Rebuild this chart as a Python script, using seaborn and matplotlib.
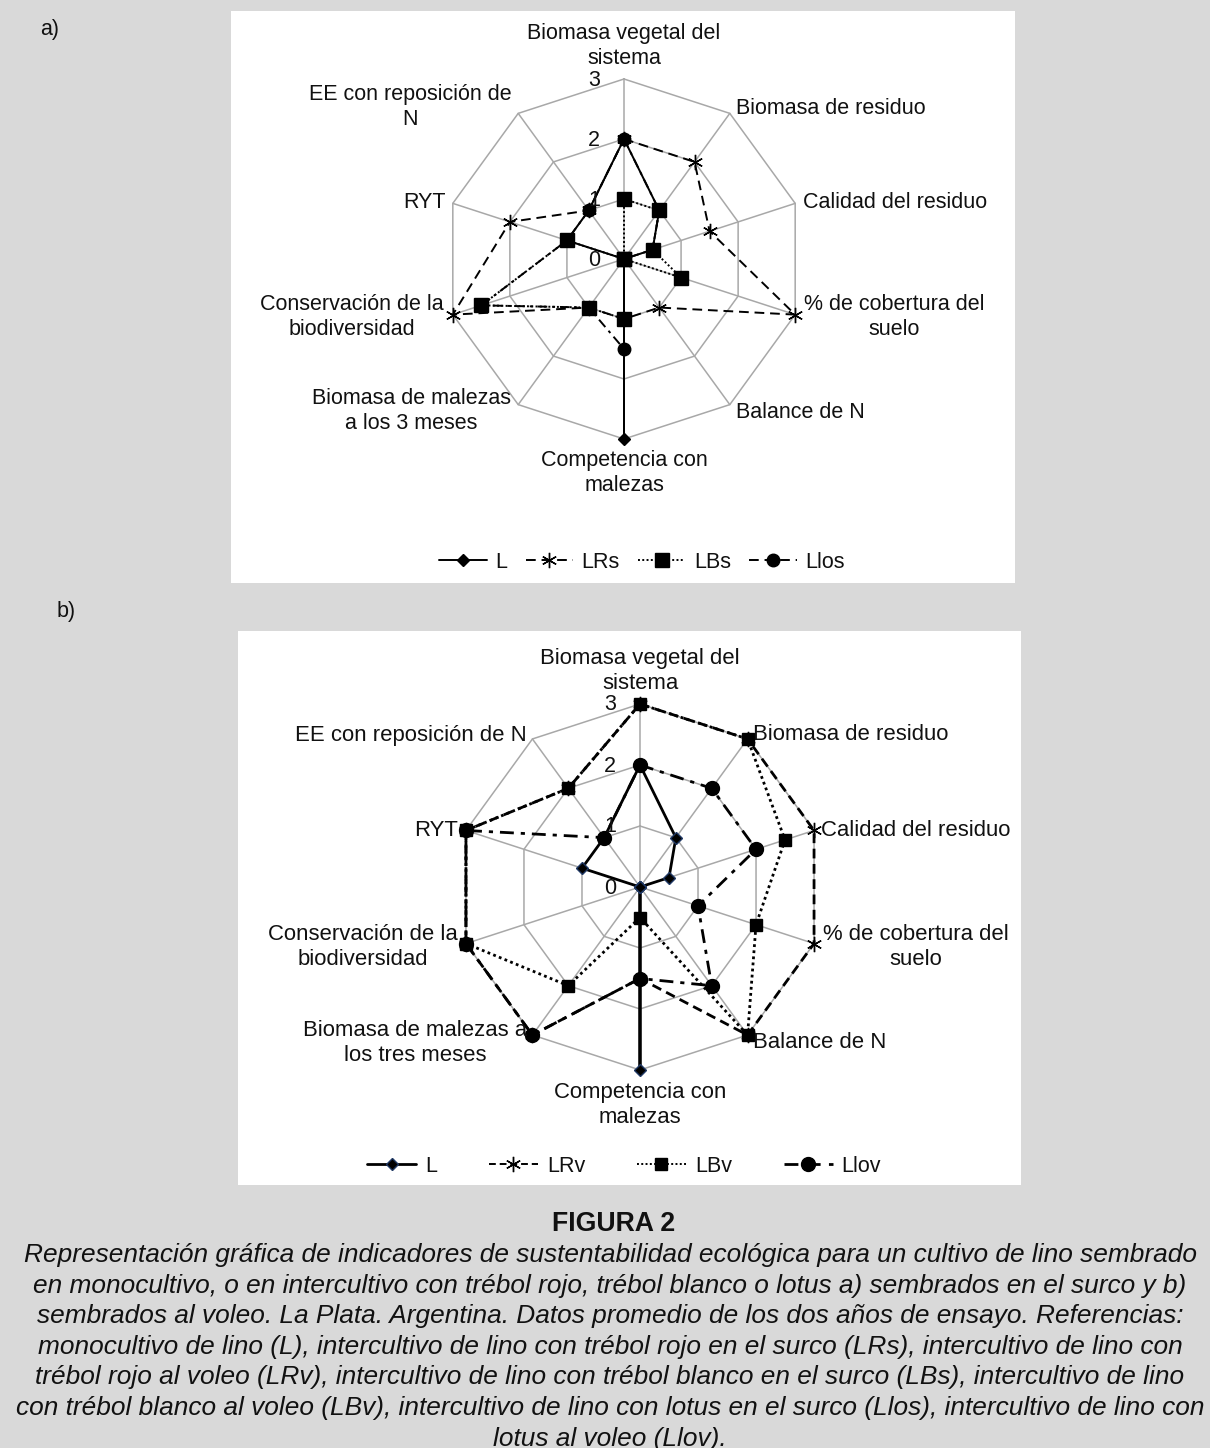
import numpy as np
import pandas as pd
import matplotlib
matplotlib.use("Agg")
import matplotlib.pyplot as plt
import seaborn as sns
from matplotlib.lines import Line2D
from matplotlib.patches import Rectangle

sns.set_theme(style="white")
plt.rcParams["font.family"] = ["Liberation Sans", "DejaVu Sans"]

# ---------------- data ----------------
axes_a = ["Biomasa vegetal del\nsistema", "Biomasa de residuo", "Calidad del residuo",
          "% de cobertura del\nsuelo", "Balance de N", "Competencia con\nmalezas",
          "Biomasa de malezas\na los 3 meses", "Conservación de la\nbiodiversidad",
          "RYT", "EE con reposición de\nN"]
axes_b = ["Biomasa vegetal del\nsistema", "Biomasa de residuo", "Calidad del residuo",
          "% de cobertura del\nsuelo", "Balance de N", "Competencia con\nmalezas",
          "Biomasa de malezas a\nlos tres meses", "Conservación de la\nbiodiversidad",
          "RYT", "EE con reposición de N"]
tick_values = [0, 1, 2, 3]

series_a = ["L", "LRs", "LBs", "Llos"]
L_a = [2, 1, 0.5, 0, 0, 3, 0, 0, 1, 1]
LRs_a = [2, 2, 1.5, 3, 1, 1, 1, 3, 2, 1]
LBs_a = [1, 1, 0.5, 1, 0, 1, 1, 2.5, 1, 0]
Llos_a = [2, 1, 0.5, 0, 0, 1.5, 1, 2.5, 1, 1]

series_b = ["L", "LRv", "LBv", "Llov"]
L_b = [2, 1, 0.5, 0, 0, 3, 0, 0, 1, 1]
LRv_b = [3, 3, 3, 3, 3, 1.5, 3, 3, 3, 2]
LBv_b = [3, 3, 2.5, 2, 3, 0.5, 2, 3, 3, 2]
Llov_b = [2, 2, 2, 1, 2, 1.5, 3, 3, 3, 1]

caption_title = "FIGURA 2"
caption_lines = [
    "Representación gráfica de indicadores de sustentabilidad ecológica para un cultivo de lino sembrado",
    "en monocultivo, o en intercultivo con trébol rojo, trébol blanco o lotus a) sembrados en el surco y b)",
    "sembrados al voleo. La Plata. Argentina. Datos promedio de los dos años de ensayo. Referencias:",
    "monocultivo de lino (L), intercultivo de lino con trébol rojo en el surco (LRs), intercultivo de lino con",
    "trébol rojo al voleo (LRv), intercultivo de lino con trébol blanco en el surco (LBs), intercultivo de lino",
    "con trébol blanco al voleo (LBv), intercultivo de lino con lotus en el surco (Llos), intercultivo de lino con",
    "lotus al voleo (Llov).",
]

# ---------------- figure ----------------
W, H = 1210, 1448
fig = plt.figure(figsize=(W / 100, H / 100), dpi=100)
fig.patch.set_facecolor("#d9d9d9")
TXT = "#111111"
GRID = "#a8a8a8"


def fx(x):
    return x / W


def fy(y):
    return 1 - y / H


def panel(x0, y0, x1, y1):
    fig.patches.append(Rectangle((fx(x0), fy(y1)), fx(x1) - fx(x0), fy(y0) - fy(y1),
                                 transform=fig.transFigure, facecolor="white",
                                 edgecolor="none", zorder=-5))


def radar_axes(cx, cy, R):
    ax = fig.add_axes([fx(cx - R), fy(cy + R), 2 * R / W, 2 * R / H], projection="polar")
    ax.set_zorder(2)
    ax.patch.set_alpha(0)
    ax.set_theta_zero_location("N")
    ax.set_theta_direction(-1)
    ax.set_ylim(0, 3)
    ax.set_axis_off()
    return ax


n = 10
theta = np.linspace(0, 2 * np.pi, n, endpoint=False)
theta_c = np.append(theta, 2 * np.pi)


def draw_grid(ax):
    for r in tick_values[1:]:
        ax.plot(theta_c, [r] * (n + 1), color=GRID, lw=1.1, clip_on=False, zorder=1)
    for t in theta:
        ax.plot([t, t], [0, 3], color=GRID, lw=1.1, clip_on=False, zorder=1)


def draw_series(ax, names, values, dashes, markers, lw):
    rows = []
    for nm, vals in zip(names, values):
        vc = list(vals) + [vals[0]]
        for t, v in zip(theta_c, vc):
            rows.append({"serie": nm, "theta": t, "r": v})
    df = pd.DataFrame(rows)
    sns.lineplot(data=df, x="theta", y="r", hue="serie", style="serie",
                 palette={k: "black" for k in names}, dashes=dashes,
                 sort=False, estimator=None, errorbar=None, legend=False,
                 lw=lw, ax=ax, clip_on=False, zorder=3)
    for nm, vals in zip(names, values):
        m = markers[nm]
        ax.plot(theta, vals, linestyle="none", clip_on=False, zorder=4, **m)
    ax.set_xlabel("")
    ax.set_ylabel("")


def strip(d):
    return {k: v for k, v in d.items() if k != "color"}


fs = 15.5
LS = 1.24

# ---------------- panel a ----------------
panel(231, 11, 1015, 583)
axa = radar_axes(624, 259, 180)
draw_grid(axa)
dash_a = {"L": "", "LRs": (5, 3), "LBs": (1, 1.2), "Llos": (5, 2.5, 1.5, 2.5)}
mk_a = {
    "L": dict(marker="D", ms=6, color="black"),
    "LRs": dict(marker=(6, 2, 0), ms=11, mew=1.0, color="black"),
    "LBs": dict(marker="s", ms=10, color="black"),
    "Llos": dict(marker="o", ms=9, color="black"),
}
draw_series(axa, series_a, [L_a, LRs_a, LBs_a, Llos_a], dash_a, mk_a, 1.4)

for t in tick_values:
    fig.text(fx(600), fy(260 - 60 * t), str(t), ha="right", va="center", fontsize=fs, color=TXT)

lab_a = [
    (624, 46, "center"), (736, 108, "left"), (803, 202, "left"), (894, 317, "center"),
    (736, 412, "left"), (624, 473, "center"), (411, 411, "center"), (352, 317, "center"),
    (446, 202, "right"), (410, 107, "center"),
]
for (x, y, ha), txt in zip(lab_a, axes_a):
    fig.text(fx(x), fy(y), txt, ha=ha, va="center", fontsize=fs, color=TXT,
             multialignment="center", linespacing=LS)

fig.text(fx(50), fy(29), "a)", ha="center", va="center", fontsize=fs, color=TXT)

hand_a = [
    Line2D([], [], color="black", lw=1.4, ls="-", **strip(mk_a["L"])),
    Line2D([], [], color="black", lw=1.4, dashes=dash_a["LRs"], **strip(mk_a["LRs"])),
    Line2D([], [], color="black", lw=1.4, dashes=dash_a["LBs"], **strip(mk_a["LBs"])),
    Line2D([], [], color="black", lw=1.4, dashes=(5, 3), **strip(mk_a["Llos"])),
]
fig.legend(hand_a, series_a, loc="center", bbox_to_anchor=(fx(642), fy(562)), ncol=4,
           frameon=False, fontsize=fs, handlelength=2.2, handletextpad=0.4,
           columnspacing=0.85, labelcolor=TXT)

# ---------------- panel b ----------------
panel(238, 631, 1021, 1185)
axb = radar_axes(640, 887, 183)
draw_grid(axb)
dash_b = {"L": "", "LRv": (3.5, 2), "LBv": (1, 1.2), "Llov": (5, 2.5, 1.5, 2.5)}
mk_b = {
    "L": dict(marker="D", ms=6.5, color="black", mec="#1f3864"),
    "LRv": dict(marker=(6, 2, 0), ms=11, mew=1.0, color="black"),
    "LBv": dict(marker="s", ms=8, color="black"),
    "Llov": dict(marker="o", ms=10, color="black"),
}
draw_series(axb, series_b, [L_b, LRv_b, LBv_b, Llov_b], dash_b, mk_b, 2.0)

for t in tick_values:
    fig.text(fx(616), fy(888 - 61 * t), str(t), ha="right", va="center", fontsize=fs, color=TXT)

lab_b = [
    (640, 671, "center"), (753, 735, "left"), (821, 830, "left"), (916, 947, "center"),
    (753, 1043, "left"), (640, 1105, "center"), (415, 1043, "center"), (363, 947, "center"),
    (458, 830, "right"), (527, 735, "right"),
]
for (x, y, ha), txt in zip(lab_b, axes_b):
    fig.text(fx(x), fy(y), txt, ha=ha, va="center", fontsize=fs + 0.4, color=TXT,
             multialignment="center", linespacing=LS)

fig.text(fx(66), fy(612), "b)", ha="center", va="center", fontsize=fs, color=TXT)

hand_b = [
    Line2D([], [], color="black", lw=2.0, ls="-", **strip(mk_b["L"])),
    Line2D([], [], color="black", lw=1.4, dashes=(3.5, 2), **strip(mk_b["LRv"])),
    Line2D([], [], color="black", lw=1.4, dashes=(1, 1.2), **strip(mk_b["LBv"])),
    Line2D([], [], color="black", lw=2.0, dashes=(5, 3), **strip(mk_b["Llov"])),
]
fig.legend(hand_b, series_b, loc="center", bbox_to_anchor=(fx(624), fy(1166)), ncol=4,
           frameon=False, fontsize=fs, handlelength=2.3, handletextpad=0.4,
           columnspacing=2.4, labelcolor=TXT)

# ---------------- caption ----------------
fig.text(fx(614), fy(1224), caption_title, ha="center", va="center", fontsize=19.2,
         fontweight="bold", color=TXT)
for i, line in enumerate(caption_lines):
    fig.text(fx(610), fy(1255 + 30.6 * i), line, ha="center", va="center", fontsize=18.9,
             style="italic", color=TXT)

fig.savefig("out.png", dpi=100, facecolor=fig.get_facecolor())
